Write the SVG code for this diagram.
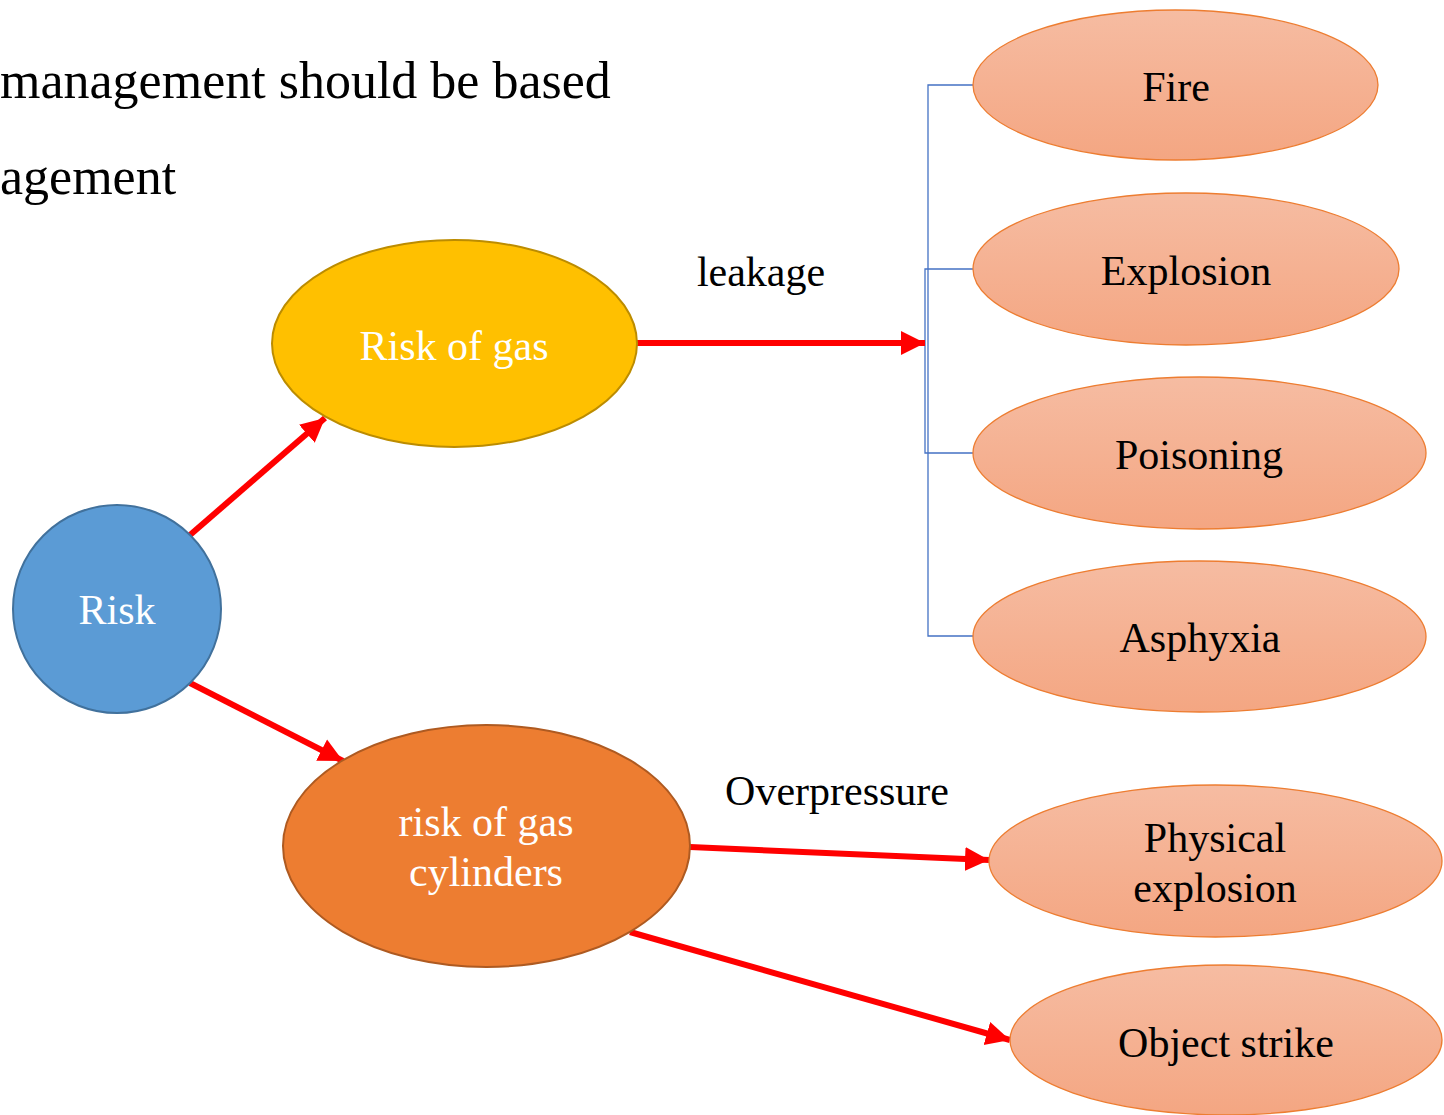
<svg xmlns="http://www.w3.org/2000/svg" width="1444" height="1115" viewBox="0 0 1444 1115">
<defs>
<linearGradient id="salmon" x1="0" y1="0" x2="0" y2="1">
<stop offset="0" stop-color="#F6BCA2"/>
<stop offset="1" stop-color="#F4A682"/>
</linearGradient>
<marker id="ah" markerUnits="userSpaceOnUse" markerWidth="26" markerHeight="26" viewBox="0 0 26 26" refX="24" refY="13" orient="auto">
<path d="M0,1 L24,13 L0,25 Z" fill="#FF0000"/>
</marker>
</defs>
<style>
.t{font-family:"Liberation Serif","Times New Roman",serif;font-size:42px;text-anchor:middle;fill:#000}
.w{fill:#FFFFFF}
.leaf{fill:url(#salmon);stroke:#ED7D31;stroke-width:1.3}
.arr{stroke:#FF0000;stroke-width:6;fill:none;marker-end:url(#ah)}
.br{stroke:#4472C4;stroke-width:1.3;fill:none}
</style>
<rect width="1444" height="1115" fill="#FFFFFF"/>
<g id="heading">
<text x="0" y="98" style="font-family:'Liberation Serif','Times New Roman',serif;font-size:52px;fill:#000">management should be based</text>
<text x="0" y="194" style="font-family:'Liberation Serif','Times New Roman',serif;font-size:52px;fill:#000">agement</text>
</g>
<g id="connectors">
<path class="br" d="M973,85 H928 V636 H973"/>
<path class="br" d="M973,269 H925 V453 H973"/>
<line class="arr" x1="190" y1="535" x2="325" y2="418"/>
<line class="arr" x1="190" y1="683" x2="343" y2="761"/>
<line class="arr" x1="637" y1="343" x2="925" y2="343"/>
<line class="arr" x1="690" y1="847" x2="989" y2="860"/>
<line class="arr" x1="630" y1="932" x2="1010" y2="1040"/>
<text class="t" x="761" y="286">leakage</text>
<text class="t" x="837" y="805">Overpressure</text>
</g>
<g id="risk">
<circle cx="117" cy="609" r="104" fill="#5B9BD5" stroke="#41719C" stroke-width="2"/>
<text class="t w" x="117" y="624">Risk</text>
</g>
<g id="risk-gas">
<ellipse cx="454.5" cy="343.5" rx="182.5" ry="103.5" fill="#FFC000" stroke="#BC8C00" stroke-width="2"/>
<text class="t w" x="454" y="360">Risk of gas</text>
</g>
<g id="risk-cylinders">
<ellipse cx="486.5" cy="846" rx="203.5" ry="121" fill="#ED7D31" stroke="#AE5A21" stroke-width="2"/>
<text class="t w" x="486" y="836">risk of gas</text>
<text class="t w" x="486" y="886">cylinders</text>
</g>
<g id="fire">
<ellipse class="leaf" cx="1175.5" cy="85" rx="202.5" ry="75"/>
<text class="t" x="1176" y="101">Fire</text>
</g>
<g id="explosion">
<ellipse class="leaf" cx="1186" cy="269" rx="213" ry="76"/>
<text class="t" x="1186" y="285">Explosion</text>
</g>
<g id="poisoning">
<ellipse class="leaf" cx="1199.5" cy="453" rx="226.5" ry="76"/>
<text class="t" x="1199" y="469">Poisoning</text>
</g>
<g id="asphyxia">
<ellipse class="leaf" cx="1199.5" cy="636.5" rx="226.5" ry="75.5"/>
<text class="t" x="1200" y="652">Asphyxia</text>
</g>
<g id="physical-explosion">
<ellipse class="leaf" cx="1215.5" cy="861" rx="226.5" ry="76"/>
<text class="t" x="1215" y="852">Physical</text>
<text class="t" x="1215" y="902">explosion</text>
</g>
<g id="object-strike">
<ellipse class="leaf" cx="1226" cy="1040" rx="216" ry="75"/>
<text class="t" x="1226" y="1057">Object strike</text>
</g>
</svg>
